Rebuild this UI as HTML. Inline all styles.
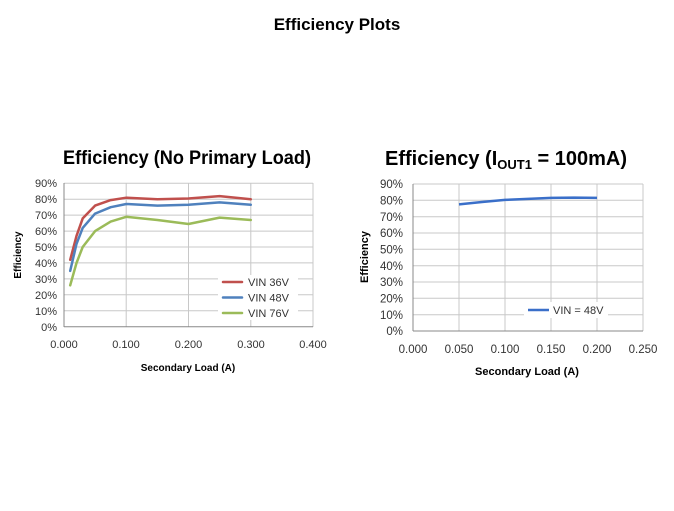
<!DOCTYPE html>
<html><head><style>body{margin:0;background:#fff}</style></head><body>
<svg width="674" height="506" xmlns="http://www.w3.org/2000/svg" font-family="Liberation Sans, sans-serif">
<text x="337" y="30" text-anchor="middle" font-size="17" font-weight="bold">Efficiency Plots</text>
<!-- left chart -->
<text x="187" y="164" text-anchor="middle" font-size="19" font-weight="bold" textLength="248" lengthAdjust="spacingAndGlyphs">Efficiency (No Primary Load)</text>
<g stroke="#c8c8c8" stroke-width="1">
<line x1="64" y1="183.3" x2="313" y2="183.3"/><line x1="64" y1="199.2" x2="313" y2="199.2"/><line x1="64" y1="215.1" x2="313" y2="215.1"/><line x1="64" y1="231.1" x2="313" y2="231.1"/><line x1="64" y1="247" x2="313" y2="247"/><line x1="64" y1="262.9" x2="313" y2="262.9"/><line x1="64" y1="278.9" x2="313" y2="278.9"/><line x1="64" y1="294.8" x2="313" y2="294.8"/><line x1="64" y1="310.8" x2="313" y2="310.8"/>
<line x1="126.2" y1="183" x2="126.2" y2="327"/><line x1="188.5" y1="183" x2="188.5" y2="327"/><line x1="250.8" y1="183" x2="250.8" y2="327"/><line x1="313" y1="183" x2="313" y2="327"/>
</g>
<line x1="64" y1="183" x2="64" y2="327" stroke="#888"/><line x1="64" y1="326.7" x2="313" y2="326.7" stroke="#888"/>
<g font-size="11" text-anchor="end" fill="#333">
<text x="57" y="187">90%</text><text x="57" y="203">80%</text><text x="57" y="219">70%</text><text x="57" y="235">60%</text><text x="57" y="251">50%</text><text x="57" y="267">40%</text><text x="57" y="283">30%</text><text x="57" y="299">20%</text><text x="57" y="315">10%</text><text x="57" y="331">0%</text>
</g>
<g font-size="11" text-anchor="middle" fill="#333">
<text x="64" y="348">0.000</text><text x="126" y="348">0.100</text><text x="188.5" y="348">0.200</text><text x="251" y="348">0.300</text><text x="313" y="348">0.400</text>
</g>
<text x="188" y="371" text-anchor="middle" font-size="10" font-weight="bold">Secondary Load (A)</text>
<text transform="translate(21,255) rotate(-90)" text-anchor="middle" font-size="10" font-weight="bold">Efficiency</text>
<rect x="218" y="275" width="80" height="45" fill="#fff"/>
<g fill="none" stroke-width="2.5" stroke-linejoin="round" stroke-linecap="round">
<polyline stroke="#c0504d" points="70.2,259.8 76.5,235.9 82.7,218.4 95.1,205.6 110.7,200.1 126.3,197.7 157.4,199.3 188.5,198.5 219.6,196.1 250.8,199.3"/>
<polyline stroke="#4f81bd" points="70.2,270.9 76.5,243.9 82.7,227.9 95.1,213.6 110.7,207.2 126.3,204.0 157.4,205.6 188.5,204.8 219.6,202.4 250.8,204.8"/>
<polyline stroke="#9bbb59" points="70.2,285.3 76.5,263.0 82.7,247.0 95.1,231.1 110.7,221.6 126.3,216.8 157.4,220.0 188.5,224.0 219.6,217.6 250.8,220.0"/>
<line stroke="#c0504d" x1="223" y1="282" x2="242" y2="282"/>
<line stroke="#4f81bd" x1="223" y1="297.5" x2="242" y2="297.5"/>
<line stroke="#9bbb59" x1="223" y1="313" x2="242" y2="313"/>
</g>
<g font-size="11" fill="#333"><text x="248" y="286">VIN 36V</text><text x="248" y="301.5">VIN 48V</text><text x="248" y="317">VIN 76V</text></g>
<!-- right chart -->
<text x="385" y="165" font-size="20" font-weight="bold">Efficiency (I<tspan font-size="13" dy="4">OUT1</tspan><tspan dy="-4"> = 100mA)</tspan></text>
<g stroke="#c8c8c8" stroke-width="1">
<line x1="413" y1="184" x2="643" y2="184"/><line x1="413" y1="200.3" x2="643" y2="200.3"/><line x1="413" y1="216.7" x2="643" y2="216.7"/><line x1="413" y1="233" x2="643" y2="233"/><line x1="413" y1="249.3" x2="643" y2="249.3"/><line x1="413" y1="265.7" x2="643" y2="265.7"/><line x1="413" y1="282" x2="643" y2="282"/><line x1="413" y1="298.3" x2="643" y2="298.3"/><line x1="413" y1="314.7" x2="643" y2="314.7"/>
<line x1="459" y1="184" x2="459" y2="331"/><line x1="505" y1="184" x2="505" y2="331"/><line x1="551" y1="184" x2="551" y2="331"/><line x1="597" y1="184" x2="597" y2="331"/><line x1="643" y1="184" x2="643" y2="331"/>
</g>
<line x1="413" y1="184" x2="413" y2="331" stroke="#888"/><line x1="413" y1="331" x2="643" y2="331" stroke="#888"/>
<g font-size="11.5" text-anchor="end" fill="#333">
<text x="403" y="188">90%</text><text x="403" y="204.5">80%</text><text x="403" y="221">70%</text><text x="403" y="237">60%</text><text x="403" y="253.5">50%</text><text x="403" y="270">40%</text><text x="403" y="286">30%</text><text x="403" y="302.5">20%</text><text x="403" y="319">10%</text><text x="403" y="335">0%</text>
</g>
<g font-size="11.5" text-anchor="middle" fill="#333">
<text x="413" y="353">0.000</text><text x="459" y="353">0.050</text><text x="505" y="353">0.100</text><text x="551" y="353">0.150</text><text x="597" y="353">0.200</text><text x="643" y="353">0.250</text>
</g>
<text x="527" y="375" text-anchor="middle" font-size="11" font-weight="bold">Secondary Load (A)</text>
<text transform="translate(368,257) rotate(-90)" text-anchor="middle" font-size="11" font-weight="bold">Efficiency</text>
<rect x="524" y="302" width="84" height="16" fill="#fff"/>
<polyline fill="none" stroke="#3a6fc9" stroke-width="2.5" stroke-linejoin="round" points="459,204.4 482,202 505,199.9 551,197.9 574,197.6 597,197.9"/>
<line x1="528" y1="310" x2="549" y2="310" stroke="#3a6fc9" stroke-width="2.5"/>
<text x="553" y="314" font-size="11" fill="#333">VIN = 48V</text>
</svg>
</body></html>
